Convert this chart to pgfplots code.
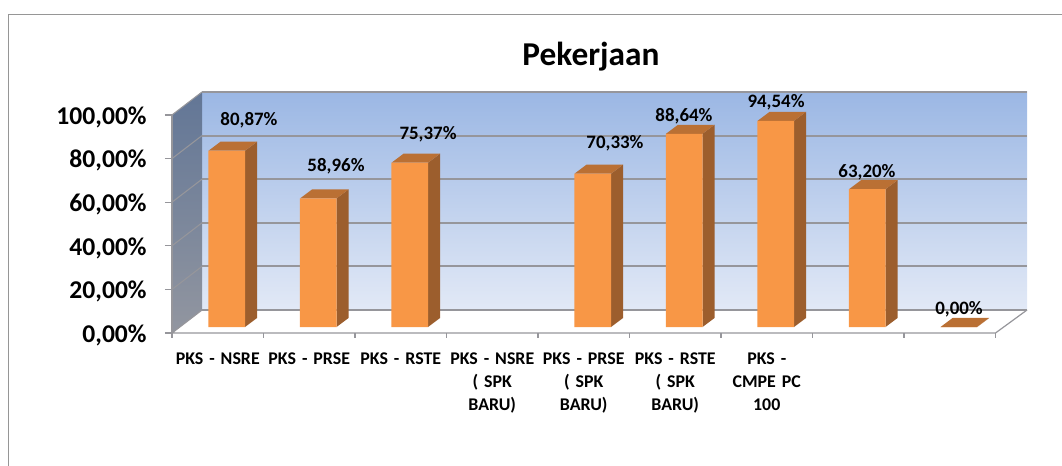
\documentclass[border=0pt]{standalone}
\usepackage{pgfplots}
\pgfplotsset{compat=1.18}
\usepackage{fontspec}
\setmainfont{Carlito}
\newfontfamily\xlabfont[WordSpace=0.6]{Carlito}
\definecolor{barfront}{RGB}{248,151,70}
\definecolor{barside}{RGB}{156,94,45}
\definecolor{bartop}{RGB}{186,112,52}
\definecolor{wallgrid}{RGB}{150,150,155}
\definecolor{framegrey}{RGB}{150,150,150}

% one reference pixel = 0.75pt; front of a bar is 36.5px wide, depth is 12px across, 9px up
\newcommand{\barsides}[2]{%
  \pgfmathsetmacro{\xa}{#1+0.1995}
  \pgfmathsetmacro{\xb}{#1+0.1995+0.1311}
  \pgfmathsetmacro{\xc}{#1-0.1995}
  \pgfmathsetmacro{\xd}{#1-0.1995+0.1311}
  \pgfmathsetmacro{\yb}{#2+4.13}
  \addplot[fill=barside, draw=none, forget plot] coordinates {(\xa,0)(\xb,4.13)(\xb,\yb)(\xa,#2)} -- cycle;
  \addplot[fill=bartop, draw=none, forget plot] coordinates {(\xc,#2)(\xa,#2)(\xb,\yb)(\xd,\yb)} -- cycle;
}

\pgfplotstableread{
k v
1 80.87
2 58.96
3 75.37
5 70.33
6 88.64
7 94.54
8 63.20
9 0.00
}\pekerjaan

\begin{document}
\begin{tikzpicture}[x=1pt,y=1pt]
  \path[use as bounding box] (-129,-99.75) rectangle (667.5,249.75);
  % chart frame: only the top and left edges are in the picture
  \draw[framegrey, line width=1.2pt] (-122.6,-99.75) -- (-122.6,238.9) -- (667.5,238.9);
  \begin{axis}[
    at={(0,0)}, anchor=south west,
    scale only axis, width=641.25pt, height=180.75pt,
    xmin=0.4016, xmax=9.7459, ymin=-2.75, ymax=107.8,
    clip=false,
    axis line style={draw=none},
    tick align=outside, xtick pos=bottom, ytick pos=left,
    major tick length=5.25pt, minor tick length=3.75pt,
    ytick={-2.75,17.25,37.25,57.25,77.25,97.25},
    yticklabels={{0,00\%},{20,00\%},{40,00\%},{60,00\%},{80,00\%},{100,00\%}},
    yticklabel style={font=\fontsize{19.2}{19.2}\selectfont\bfseries, xshift=-10.25pt, yshift=-1.6pt},
    ytick style={wallgrid, line width=0.8pt},
    xtick={0.9016,1.9016,2.9016,3.9016,4.9016,5.9016,6.9016,7.9016,8.9016},
    xticklabels={{PKS - NSRE},{PKS - PRSE},{PKS - RSTE},{PKS - NSRE\\( SPK\\BARU)},{PKS - PRSE\\( SPK\\BARU)},{PKS - RSTE\\( SPK\\BARU)},{PKS -\\CMPE PC\\100},{},{}},
    xticklabel style={font=\fontsize{13.4}{17.3}\selectfont\xlabfont\bfseries, align=center, text width=68pt, anchor=north, yshift=-6pt},
    major x tick style={draw=none},
    minor xtick={0.4016,1.4016,2.4016,3.4016,4.4016,5.4016,6.4016,7.4016,8.4016,9.4016},
    minor x tick style={wallgrid, line width=0.8pt},
    title={Pekerjaan},
    title style={at={(rel axis cs:0.490,1.113)}, anchor=center, yshift=0pt, font=\fontsize{25}{25}\selectfont\bfseries},
  ]
    % back wall and left wall
    \addplot[top color={rgb,255:red,155;green,183;blue,228}, bottom color={rgb,255:red,226;green,233;blue,246}, draw=none, forget plot]
      coordinates {(0.7295,7.8)(9.7459,7.8)(9.7459,107.8)(0.7295,107.8)} -- cycle;
    \addplot[top color={rgb,255:red,98;green,118;blue,150}, bottom color={rgb,255:red,146;green,150;blue,160}, draw=none, forget plot]
      coordinates {(0.4016,-2.75)(0.7295,7.8)(0.7295,107.8)(0.4016,97.25)} -- cycle;
    % gridlines, back wall then left wall
    \foreach \g in {7.8,27.8,47.8,67.8,87.8,107.8} {
      \addplot[wallgrid, line width=1.4pt, forget plot] coordinates {(0.7295,\g)(9.7459,\g)};
    }
    \addplot[wallgrid, line width=0.8pt, forget plot] coordinates {(0.4016,17.25)(0.7295,27.8)};
    \addplot[wallgrid, line width=0.8pt, forget plot] coordinates {(0.4016,37.25)(0.7295,47.8)};
    \addplot[wallgrid, line width=0.8pt, forget plot] coordinates {(0.4016,57.25)(0.7295,67.8)};
    \addplot[wallgrid, line width=0.8pt, forget plot] coordinates {(0.4016,77.25)(0.7295,87.8)};
    \addplot[wallgrid, line width=0.8pt, forget plot] coordinates {(0.4016,97.25)(0.7295,107.8)};
    % floor edges
    \addplot[wallgrid, line width=0.9pt, forget plot] coordinates {(0.7295,7.8)(0.4016,-2.75)(9.4016,-2.75)(9.7459,7.8)};
    \addplot[wallgrid, line width=0.8pt, forget plot] coordinates {(0.4016,-2.75)(0.4016,97.25)};
    % bars
    \barsides{1}{80.87}
    \barsides{2}{58.96}
    \barsides{3}{75.37}
    \barsides{5}{70.33}
    \barsides{6}{88.64}
    \barsides{7}{94.54}
    \barsides{8}{63.20}
    \barsides{9}{0.00}
    \addplot[ybar, bar width=27.4pt, bar shift=0pt, fill=barfront, draw=none] table[x=k, y=v] {\pekerjaan};
    % data labels, placed by hand as in the reference
    \begin{scope}[every node/.style={font=\fontsize{14.2}{14.2}\selectfont\bfseries, anchor=center, inner sep=0pt, yshift=-1.2pt}]
      \node at (axis cs:1.243,95.4) {80,87\%};
      \node at (axis cs:2.194,74.3) {58,96\%};
      \node at (axis cs:3.2,89.0) {75,37\%};
      \node at (axis cs:5.243,84.9) {70,33\%};
      \node at (axis cs:5.997,97.2) {88,64\%};
      \node at (axis cs:7.003,103.7) {94,54\%};
      \node at (axis cs:7.997,71.6) {63,20\%};
      \node at (axis cs:9.003,8.7) {0,00\%};
    \end{scope}
  \end{axis}
\end{tikzpicture}
\end{document}
